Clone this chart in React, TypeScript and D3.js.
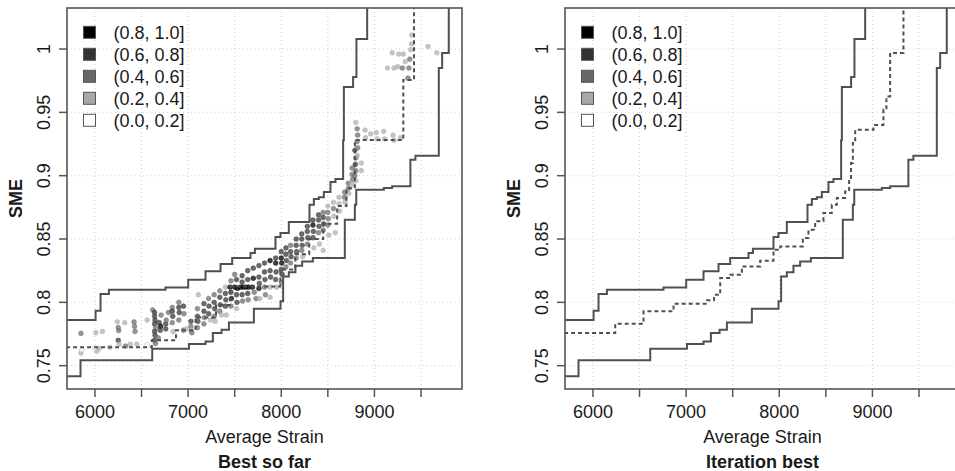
import React from 'react';
import * as d3 from 'd3';

const W = 955;
const H = 471;

const xDomain = [5700, 9940];
const yDomain = [0.7316, 1.0324];
const xLabelTicks = [6000, 7000, 8000, 9000];
const xAllTicks = [6000, 6500, 7000, 7500, 8000, 8500, 9000, 9500];
const yTicks = [0.75, 0.8, 0.85, 0.9, 0.95, 1];
const yTickLabels = ['0.75', '0.8', '0.85', '0.9', '0.95', '1'];

const legendLabels = ['(0.8, 1.0]', '(0.6, 0.8]', '(0.4, 0.6]', '(0.2, 0.4]', '(0.0, 0.2]'];
const legendFills = ['#000000', '#333333', '#686868', '#a8a8a8', '#ffffff'];
// index = level: 0 -> (0.0,0.2] ... 4 -> (0.8,1.0]
const levelFills = ['#ffffff', '#b0b0b0', '#707070', '#3a3a3a', '#000000'];

// upper envelope (step after)
const upperX = [5690, 6007, 6060, 6150, 6757, 7001, 7187, 7348, 7473, 7670, 7717, 7938, 7991, 8081, 8303, 8350, 8403, 8457, 8528, 8582, 8664, 8672, 8771, 8807, 8922];
const upperY = [0.786, 0.7934, 0.8066, 0.81, 0.8118, 0.8179, 0.8245, 0.8303, 0.835, 0.839, 0.8424, 0.8516, 0.8548, 0.8634, 0.8771, 0.8816, 0.8829, 0.8871, 0.895, 0.8974, 0.928, 0.97, 0.978, 1.008, 1.06];

// lower envelope
const lowerX = [5690, 5845, 6615, 7009, 7187, 7266, 7359, 7438, 7706, 7992, 8020, 8081, 8152, 8224, 8339, 8682, 8790, 8805, 9101, 9190, 9386, 9440, 9691, 9727, 9798];
const lowerY = [0.7416, 0.7542, 0.7634, 0.7671, 0.7692, 0.7758, 0.7784, 0.7842, 0.795, 0.8008, 0.8205, 0.8237, 0.829, 0.8323, 0.835, 0.8653, 0.877, 0.889, 0.8903, 0.8916, 0.9126, 0.9158, 0.985, 0.9969, 1.06];

// iteration best median (dashed, right panel)
const iterBestX = [5690, 6239, 6543, 6865, 7223, 7300, 7366, 7473, 7599, 7795, 7938, 8010, 8253, 8313, 8385, 8474, 8564, 8618, 8707, 8750, 8770, 8790, 8815, 9011, 9118, 9150, 9190, 9333];
const iterBestY = [0.7758, 0.7832, 0.7929, 0.799, 0.8016, 0.806, 0.8192, 0.8218, 0.8284, 0.8329, 0.8416, 0.8442, 0.8508, 0.8574, 0.864, 0.8705, 0.877, 0.8824, 0.8876, 0.8968, 0.91, 0.9258, 0.9363, 0.94, 0.952, 0.9626, 0.9969, 1.06];

// best so far median (dashed, left panel)
const bestSoFarX = [5690, 6610, 6870, 7080, 7300, 7450, 7990, 8150, 8300, 8450, 8600, 8700, 8790, 9310, 9425];
const bestSoFarY = [0.7645, 0.77, 0.778, 0.788, 0.798, 0.8125, 0.826, 0.838, 0.85, 0.862, 0.876, 0.89, 0.9282, 0.9756, 1.06];

// scatter of solutions: [average strain, SME, level]
const scatterPoints: [number, number, number][] = [
  [5850, 0.7755, 2], [5850, 0.76, 1], [5860, 0.7625, 0],
  [6010, 0.776, 1], [6020, 0.7615, 1], [6000, 0.764, 0], [6045, 0.7637, 1], [6080, 0.777, 1], [6160, 0.7645, 1],
  [6240, 0.7846, 1], [6250, 0.78, 2], [6255, 0.7777, 2], [6250, 0.77, 3], [6260, 0.767, 1],
  [6320, 0.784, 1], [6330, 0.7655, 2], [6380, 0.767, 1],
  [6420, 0.7845, 2], [6425, 0.781, 2], [6430, 0.777, 2], [6450, 0.767, 1],
  [6560, 0.786, 1], [6560, 0.7665, 0],
  [6620, 0.794, 2], [6640, 0.792, 3], [6640, 0.789, 3], [6645, 0.786, 3], [6640, 0.783, 3], [6650, 0.78, 2], [6640, 0.777, 3], [6645, 0.774, 3], [6640, 0.77, 3], [6650, 0.7675, 2],
  [6690, 0.784, 3], [6705, 0.781, 4], [6700, 0.778, 3], [6710, 0.79, 2], [6680, 0.772, 2],
  [6760, 0.783, 3], [6760, 0.779, 3], [6765, 0.786, 2], [6790, 0.792, 2],
  [6830, 0.796, 2], [6830, 0.793, 3], [6835, 0.789, 3], [6830, 0.784, 2], [6840, 0.777, 1],
  [6900, 0.8, 2], [6900, 0.796, 3], [6905, 0.792, 3], [6900, 0.786, 2],
  [6950, 0.797, 3], [6955, 0.791, 2], [6950, 0.778, 2], [6980, 0.779, 1],
  [7030, 0.785, 3], [7030, 0.781, 2], [7035, 0.778, 1], [7040, 0.776, 2],
  [7100, 0.795, 2], [7100, 0.789, 3], [7105, 0.785, 3], [7100, 0.78, 2], [7110, 0.806, 1],
  [7170, 0.799, 3], [7170, 0.793, 3], [7175, 0.788, 2], [7170, 0.783, 2],
  [7220, 0.803, 2], [7225, 0.797, 3], [7220, 0.791, 3], [7240, 0.786, 1],
  [7280, 0.806, 2], [7280, 0.8, 3], [7285, 0.795, 3], [7280, 0.789, 2], [7290, 0.785, 1],
  [7340, 0.809, 2], [7340, 0.804, 3], [7345, 0.798, 3], [7340, 0.793, 2], [7360, 0.79, 1],
  [7400, 0.812, 1], [7400, 0.807, 3], [7405, 0.802, 3], [7400, 0.797, 3], [7410, 0.79, 1],
  [7460, 0.817, 2], [7460, 0.808, 3], [7465, 0.803, 4], [7460, 0.797, 2], [7450, 0.812, 4],
  [7500, 0.822, 2], [7520, 0.818, 3], [7500, 0.812, 4], [7530, 0.811, 4], [7520, 0.806, 3], [7525, 0.8, 3], [7520, 0.795, 1],
  [7560, 0.812, 4], [7580, 0.821, 3], [7580, 0.816, 3], [7590, 0.812, 4], [7580, 0.806, 3], [7585, 0.801, 2],
  [7620, 0.812, 4], [7640, 0.825, 3], [7640, 0.818, 3], [7650, 0.812, 4], [7640, 0.807, 3], [7645, 0.802, 2],
  [7700, 0.827, 3], [7700, 0.819, 4], [7690, 0.812, 4], [7710, 0.808, 2], [7730, 0.803, 2],
  [7760, 0.829, 3], [7760, 0.82, 3], [7765, 0.815, 3], [7760, 0.811, 4], [7770, 0.803, 1],
  [7820, 0.831, 3], [7820, 0.824, 3], [7825, 0.818, 3], [7820, 0.812, 2], [7830, 0.806, 2],
  [7880, 0.833, 4], [7880, 0.825, 3], [7885, 0.82, 3], [7880, 0.812, 1], [7880, 0.804, 1],
  [7940, 0.835, 3], [7940, 0.831, 4], [7945, 0.824, 3], [7940, 0.818, 3], [7950, 0.812, 1],
  [8000, 0.84, 3], [8000, 0.835, 4], [8005, 0.831, 4], [8000, 0.826, 3], [8010, 0.822, 3], [8000, 0.816, 2],
  [8050, 0.843, 3], [8050, 0.838, 3], [8055, 0.833, 3], [8050, 0.828, 2],
  [8100, 0.845, 2], [8100, 0.84, 3], [8105, 0.836, 3], [8100, 0.831, 2],
  [8160, 0.85, 3], [8160, 0.845, 3], [8165, 0.84, 3], [8160, 0.835, 2],
  [8220, 0.854, 3], [8220, 0.85, 3], [8225, 0.845, 3], [8220, 0.841, 2], [8230, 0.836, 1],
  [8280, 0.86, 3], [8280, 0.856, 3], [8285, 0.851, 3], [8280, 0.846, 2],
  [8340, 0.865, 3], [8340, 0.861, 4], [8345, 0.856, 3], [8340, 0.851, 3], [8350, 0.843, 1],
  [8400, 0.869, 3], [8400, 0.865, 3], [8405, 0.86, 3], [8400, 0.855, 2], [8410, 0.846, 1],
  [8450, 0.871, 2], [8450, 0.867, 3], [8455, 0.862, 3], [8450, 0.857, 2], [8450, 0.841, 1],
  [8500, 0.876, 1], [8500, 0.871, 2], [8505, 0.866, 2], [8500, 0.861, 2], [8510, 0.853, 1],
  [8560, 0.879, 1], [8560, 0.874, 2], [8565, 0.868, 1], [8580, 0.855, 1],
  [8620, 0.883, 1], [8620, 0.878, 1], [8625, 0.872, 1],
  [8680, 0.887, 2], [8680, 0.883, 2], [8685, 0.879, 1],
  [8720, 0.894, 2], [8720, 0.89, 2], [8725, 0.886, 1],
  [8760, 0.906, 2], [8760, 0.901, 2], [8765, 0.897, 2], [8760, 0.893, 1],
  [8790, 0.92, 3], [8800, 0.914, 2], [8795, 0.909, 3], [8800, 0.904, 2], [8790, 0.9, 2], [8800, 0.896, 1],
  [8815, 0.937, 2], [8820, 0.932, 2], [8815, 0.927, 2], [8820, 0.922, 2], [8815, 0.916, 1], [8800, 0.942, 1],
  [8860, 0.91, 1], [8860, 0.904, 1],
  [8900, 0.936, 1], [8905, 0.93, 1], [8960, 0.933, 1],
  [9020, 0.934, 1], [9030, 0.929, 1], [9100, 0.935, 1], [9110, 0.929, 1],
  [9200, 0.932, 1], [9210, 0.928, 1], [9280, 0.93, 1],
  [9140, 0.985, 1], [9190, 0.997, 1], [9210, 0.985, 1],
  [9250, 0.986, 1], [9260, 0.996, 1], [9300, 0.985, 2], [9310, 0.996, 1], [9330, 0.99, 1],
  [9360, 0.977, 2], [9370, 0.985, 2], [9380, 0.992, 2], [9390, 0.9995, 1],
  [9400, 1.004, 1], [9400, 1.011, 1], [9575, 1.002, 1], [9670, 0.997, 1],
];

const FONT = '"Liberation Sans", Arial, Helvetica, sans-serif';
const Y0 = 8;
const Y1 = 389;

type PanelProps = {
  id: string;
  x0: number;
  x1: number;
  title: string;
  medX: number[];
  medY: number[];
  showPoints: boolean;
};

function Panel({ id, x0, x1, title, medX, medY, showPoints }: PanelProps) {
  const x = d3.scaleLinear().domain(xDomain).range([x0, x1]);
  const y = d3.scaleLinear().domain(yDomain).range([Y1, Y0]);
  const line = d3
    .line<[number, number]>()
    .x((d) => x(d[0]))
    .y((d) => y(d[1]))
    .curve(d3.curveStepAfter);
  const zip = (a: number[], b: number[]) => a.map((v, i) => [v, b[i]] as [number, number]);
  const upperPath = line(zip(upperX, upperY)) || '';
  const lowerPath = line(zip(lowerX, lowerY)) || '';
  const medPath = line(zip(medX, medY)) || '';
  const cx = (x0 + x1) / 2;
  const clipId = `clip-${id}`;
  const lineColor = '#505050';

  return (
    <g>
      <defs>
        <clipPath id={clipId}>
          <rect x={x0} y={Y0} width={x1 - x0} height={Y1 - Y0} />
        </clipPath>
      </defs>
      <g clipPath={`url(#${clipId})`}>
        {xAllTicks.map((t) => (
          <line key={'gx' + t} x1={x(t)} x2={x(t)} y1={Y0} y2={Y1} stroke="#cccccc" strokeWidth={1} strokeDasharray="1,3" />
        ))}
        {yTicks.map((t) => (
          <line key={'gy' + t} x1={x0} x2={x1} y1={y(t)} y2={y(t)} stroke="#d6d6d6" strokeWidth={1} strokeDasharray="1,3" />
        ))}
        {showPoints &&
          scatterPoints.map((p, i) => (
            <circle
              key={'p' + i}
              cx={x(p[0])}
              cy={y(p[1])}
              r={2.4}
              fill={levelFills[p[2]]}
              fillOpacity={0.75}
              stroke={p[2] === 0 ? '#aaaaaa' : levelFills[p[2]]}
              strokeOpacity={0.6}
              strokeWidth={0.8}
            />
          ))}
        <path d={upperPath} fill="none" stroke={lineColor} strokeWidth={2} />
        <path d={lowerPath} fill="none" stroke={lineColor} strokeWidth={2} />
        <path d={medPath} fill="none" stroke={lineColor} strokeWidth={2} strokeDasharray="4,3" />
      </g>
      <rect x={x0} y={Y0} width={x1 - x0} height={Y1 - Y0} fill="none" stroke="#555555" strokeWidth={1.6} />
      {xAllTicks.map((t) => (
        <line key={'tx' + t} x1={x(t)} x2={x(t)} y1={Y1} y2={Y1 + 8} stroke="#555555" strokeWidth={1.5} />
      ))}
      {xLabelTicks.map((t) => (
        <text key={'lx' + t} x={x(t)} y={418} textAnchor="middle" fontSize={18} fontFamily={FONT} fill="#1a1a1a">
          {String(t)}
        </text>
      ))}
      {yTicks.map((t, i) => (
        <g key={'ty' + t}>
          <line x1={x0 - 8} x2={x0} y1={y(t)} y2={y(t)} stroke="#555555" strokeWidth={1.5} />
          <text
            transform={`translate(${x0 - 17},${y(t)}) rotate(-90)`}
            textAnchor="middle"
            fontSize={18}
            fontFamily={FONT}
            fill="#1a1a1a"
          >
            {yTickLabels[i]}
          </text>
        </g>
      ))}
      <text
        transform={`translate(${x0 - 45},${(Y0 + Y1) / 2}) rotate(-90)`}
        textAnchor="middle"
        fontSize={18}
        fontWeight="bold"
        fontFamily={FONT}
        fill="#1a1a1a"
      >
        SME
      </text>
      <text x={cx} y={443} textAnchor="middle" fontSize={18} fontFamily={FONT} fill="#1a1a1a">
        Average Strain
      </text>
      <text x={cx} y={468} textAnchor="middle" fontSize={18} fontWeight="bold" fontFamily={FONT} fill="#1a1a1a">
        {title}
      </text>
      {legendLabels.map((lab, i) => {
        const cy = 32.3 + i * 22;
        return (
          <g key={'lg' + i}>
            <rect x={x0 + 16.5} y={cy - 6} width={12} height={12} fill={legendFills[i]} stroke="#555555" strokeWidth={1} />
            <text x={x0 + 46.5} y={cy + 6.5} fontSize={18} fontFamily={FONT} fill="#1a1a1a">
              {lab}
            </text>
          </g>
        );
      })}
    </g>
  );
}

export default function App() {
  return (
    <svg
      width={W}
      height={H}
      viewBox={`0 0 ${W} ${H}`}
      style={{ position: 'absolute', left: 0, top: 0, display: 'block', background: '#ffffff' }}
    >
      <rect x={0} y={0} width={W} height={H} fill="#ffffff" />
      <Panel id="a" x0={67} x1={462} title="Best so far" medX={bestSoFarX} medY={bestSoFarY} showPoints={true} />
      <Panel id="b" x0={565} x1={960} title="Iteration best" medX={iterBestX} medY={iterBestY} showPoints={false} />
    </svg>
  );
}
